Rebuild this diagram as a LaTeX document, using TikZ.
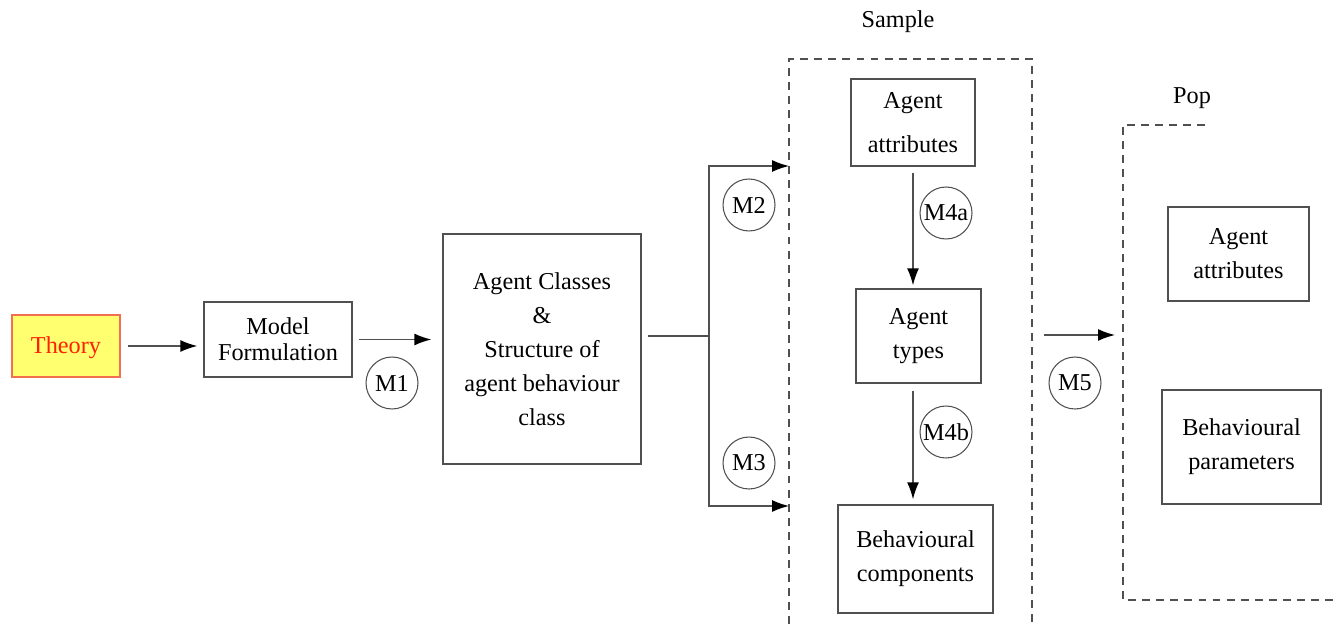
\documentclass[tikz,border=0pt]{standalone}
\usepackage{fontspec}
\setmainfont{Liberation Serif}
\usepackage{tikz}
\usetikzlibrary{arrows.meta}

\definecolor{theoryfill}{HTML}{FFFF70}
\definecolor{theoryline}{HTML}{F07050}
\definecolor{theorytext}{HTML}{FF2000}
\definecolor{linegray}{HTML}{505050}

\tikzset{
  blk/.style={draw=linegray,line width=0.8pt,align=center,inner sep=0pt,
    font=\fontsize{13.8}{19.3}\selectfont},
  mark circ/.style={circle,draw=linegray,line width=0.6pt,minimum size=1.04cm,inner sep=0pt,
    font=\fontsize{13.8}{16}\selectfont},
  arr/.style={draw=linegray,line width=0.8pt,-{Latex[length=0.34cm,width=0.24cm,color=black]}},
  ln/.style={draw=linegray,line width=0.8pt},
  region/.style={draw=linegray,line width=0.7pt,dash pattern=on 4.5pt off 3.5pt},
  lbl/.style={font=\fontsize{13.8}{16}\selectfont}
}

\begin{document}
\begin{tikzpicture}[x=0.02cm,y=-0.02cm]
          \useasboundingbox (0,0) rectangle (1337,624);
          % main chain
          \node[blk,fill=theoryfill,draw=theoryline,text=theorytext,minimum width=2.16cm,minimum height=1.24cm,text height=9pt,text depth=1pt] (theory) at (66,346) {Theory};
          \node[blk,minimum width=2.96cm,minimum height=1.5cm] (model) at (278,339.5) {Model\\[-4.5pt]Formulation};
          \node[blk,minimum width=3.96cm,minimum height=4.6cm] (classes) at (542,349) {Agent Classes\\\&\\Structure of\\agent behaviour\\class};
          \node[mark circ] (m1) at (392,383) {M1};
          \draw[arr,shorten <=0.14cm,shorten >=0.12cm] (theory) -- (theory -| model.west);
          \draw[arr,shorten <=0.12cm,shorten >=0.22cm] (model.east) -- (model.east -| classes.west);
          % split to sample
          \coordinate (split) at (709,336);
          \coordinate (m2end) at (789,166);
          \coordinate (m3end) at (789,506);
          \draw[ln,shorten <=0.12cm] (classes.east |- split) -- (split);
          \draw[arr] (split) |- (m2end);
          \draw[arr] (split) |- (m3end);
          \node[mark circ] (m2) at (749,205) {M2};
          \node[mark circ] (m3) at (749,463) {M3};
          % sample
          \draw[region] (789,624) -- (789,59) -- (1032,59) -- (1032,624);
          \node[lbl] (sample) at (898,22) {Sample};
          \node[blk,minimum width=2.48cm,minimum height=1.74cm] (attrS) at (913,122.5) {Agent\\[6pt]attributes};
          \node[blk,minimum width=2.5cm,minimum height=1.88cm] (types) at (918.5,336) {Agent\\types};
          \node[blk,minimum width=3.1cm,minimum height=2.16cm] (comps) at (915.5,559) {Behavioural\\components};
          \draw[arr,shorten <=0.12cm,shorten >=0.06cm] (attrS.south) -- (attrS.south |- types.north);
          \draw[arr,shorten <=0.14cm,shorten >=0.1cm] (attrS.south |- types.south) -- (attrS.south |- comps.north);
          \node[mark circ] (m4a) at (946,213) {M4a};
          \node[mark circ] (m4b) at (946,432) {M4b};
          % to population
          \coordinate (m5start) at (1044,335);
          \coordinate (m5end) at (1115,335);
          \draw[arr] (m5start) -- (m5end);
          \node[mark circ] (m5) at (1075,383) {M5};
          \draw[region] (1205,125) -- (1123,125) -- (1123,600) -- (1337,600);
          \node[lbl] (pop) at (1192,98) {Pop};
          \node[blk,minimum width=2.82cm,minimum height=1.88cm] (attrP) at (1238.5,254) {Agent\\attributes};
          \node[blk,minimum width=3.18cm,minimum height=2.28cm] (params) at (1241.5,447) {Behavioural\\parameters};
        \end{tikzpicture}
\end{document}
